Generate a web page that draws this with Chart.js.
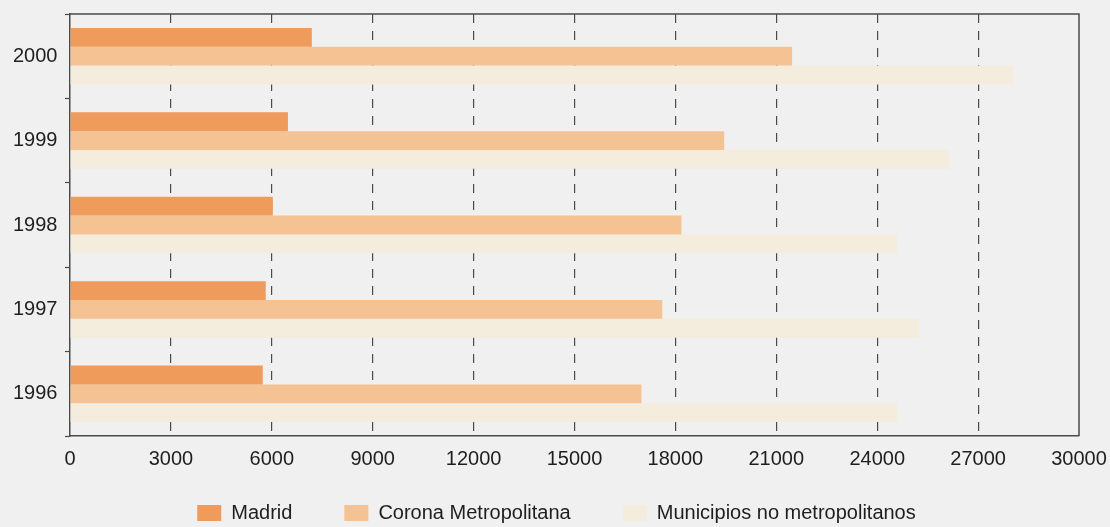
<!DOCTYPE html>
<html lang="es">
<head>
<meta charset="utf-8">
<title>Madrid, Corona Metropolitana y Municipios no metropolitanos</title>
<script src="https://cdn.jsdelivr.net/npm/chart.js@4.4.1/dist/chart.umd.min.js"></script>
<style>
  html, body { margin: 0; padding: 0; background: #f0f0f0; }
  #chart { display: block; }
</style>
</head>
<body>
<canvas id="chart" width="1110" height="527"></canvas>
<script>
// values (top row first)
const years = ['2000', '1999', '1998', '1997', '1996'];
const madrid = [7190, 6480, 6030, 5820, 5730];
const corona = [21470, 19450, 18180, 17610, 16990];
const municipios = [28050, 26150, 24600, 25250, 24600];

const seriesNames = ['Madrid', 'Corona Metropolitana', 'Municipios no metropolitanos'];
const seriesColors = ['#ee9b5c', '#f4c293', '#f4eddd'];

const xMin = 0;
const xMax = 30000;
const xStep = 3000;

const AXIS = '#4a4a4a';
const TEXT = '#1e1e1e';

Chart.defaults.font.family = "'Liberation Sans', Arial, sans-serif";
Chart.defaults.color = TEXT;

// top and right edges of the plot frame
const framePlugin = {
  id: 'frame',
  beforeDatasetsDraw(chart) {
    const { ctx, chartArea: a } = chart;
    ctx.save();
    ctx.strokeStyle = AXIS;
    ctx.lineWidth = 1.5;
    ctx.beginPath();
    ctx.moveTo(a.left, a.top);
    ctx.lineTo(a.right, a.top);
    ctx.lineTo(a.right, a.bottom);
    ctx.stroke();
    ctx.restore();
  }
};

const datasets = [madrid, corona, municipios].map((data, i) => ({
  label: seriesNames[i],
  data,
  backgroundColor: seriesColors[i],
  borderWidth: 0,
  categoryPercentage: 0.67,
  barPercentage: 1.0,
}));

new Chart(document.getElementById('chart'), {
  type: 'bar',
  data: { labels: years, datasets },
  plugins: [framePlugin],
  options: {
    indexAxis: 'y',
    responsive: false,
    animation: false,
    devicePixelRatio: 1,
    // left padding + y-axis width = 70px, legend centred over 34..1079
    layout: { padding: { top: 14, right: 31, left: 34, bottom: 0 } },
    plugins: {
      tooltip: { enabled: false },
      legend: {
        position: 'bottom',
        maxHeight: 76,
        labels: {
          boxWidth: 24,
          boxHeight: 16,
          padding: 52,
          color: TEXT,
          font: { size: 20 },
        },
      },
    },
    scales: {
      x: {
        min: xMin,
        max: xMax,
        // mirrored labels with negative padding sit below the axis without being clipped
        ticks: {
          stepSize: xStep,
          mirror: true,
          padding: -35,
          font: { size: 20 },
          color: TEXT,
          callback: (value) => String(value),
        },
        grid: {
          drawTicks: false,
          color: (ctx) => (ctx.index === 0 || ctx.tick?.value === xMax) ? 'rgba(0,0,0,0)' : AXIS,
          lineWidth: 1.2,
        },
        border: { display: true, color: AXIS, width: 1.5, dash: [9, 8] },
        afterFit(scale) { scale.height = 15; },
      },
      y: {
        ticks: { mirror: true, padding: -57, font: { size: 20, lineHeight: 0.6 }, color: TEXT },
        grid: {
          offset: true,
          drawOnChartArea: false,
          drawTicks: true,
          tickLength: 5,
          tickColor: AXIS,
          tickWidth: 1.2,
        },
        border: { display: true, color: AXIS, width: 1.5 },
        afterFit(scale) { scale.width = 36; },
      },
    },
  },
});
</script>
</body>
</html>
